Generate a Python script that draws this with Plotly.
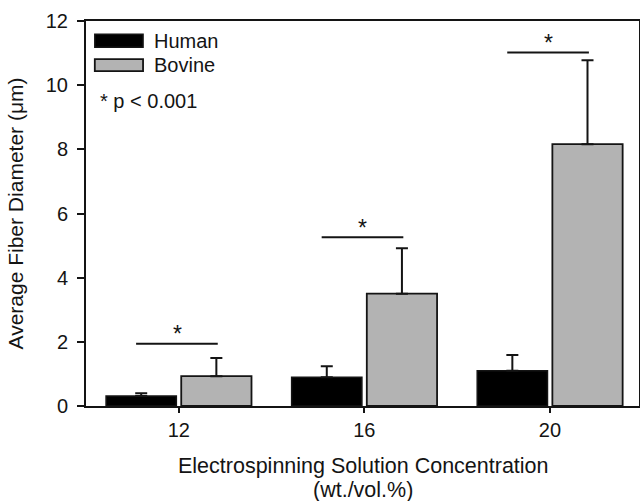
import plotly.graph_objects as go

concentrations = [12, 16, 20]
human_mean = [0.31, 0.90, 1.10]
human_err = [0.09, 0.34, 0.49]
bovine_mean = [0.93, 3.50, 8.16]
bovine_err = [0.57, 1.42, 2.62]
sig_line_y = [1.94, 5.26, 11.02]
y_ticks = [0, 2, 4, 6, 8, 10, 12]
x_title_lines = ["Electrospinning Solution Concentration", "(wt./vol.%)"]

FONT = "Liberation Sans, Arial, sans-serif"
INK = "#141414"

fig = go.Figure()
fig.add_trace(go.Bar(
    x=concentrations, y=human_mean, name="Human",
    marker=dict(color="#000000", line=dict(color=INK, width=1.5)),
    error_y=dict(type="data", symmetric=False, array=human_err,
                 arrayminus=[0] * len(human_err), color=INK, thickness=2, width=6),
))
fig.add_trace(go.Bar(
    x=concentrations, y=bovine_mean, name="Bovine",
    marker=dict(color="#b3b3b3", line=dict(color=INK, width=1.8)),
    error_y=dict(type="data", symmetric=False, array=bovine_err,
                 arrayminus=[0] * len(bovine_err), color=INK, thickness=2, width=6),
))

shapes = []
annotations = []
for c, ly in zip(concentrations, sig_line_y):
    shapes.append(dict(type="line", xref="x", yref="y", x0=c - 0.92, x1=c + 0.84,
                       y0=ly, y1=ly, line=dict(color=INK, width=2)))
    annotations.append(dict(x=c - 0.03, y=ly + 0.30, xref="x", yref="y", text="*",
                            showarrow=False, font=dict(family=FONT, size=23, color=INK),
                            yanchor="middle", xanchor="center"))

# legend drawn manually
shapes.append(dict(type="rect", xref="x", yref="y", x0=10.19, x1=11.23, y0=11.18, y1=11.59,
                   fillcolor="#000000", line=dict(color=INK, width=1.5)))
shapes.append(dict(type="rect", xref="x", yref="y", x0=10.19, x1=11.23, y0=10.44, y1=10.81,
                   fillcolor="#b3b3b3", line=dict(color=INK, width=1.8)))
annotations.append(dict(x=11.42, y=11.37, xref="x", yref="y", text="Human", showarrow=False,
                        xanchor="left", yanchor="middle", font=dict(family=FONT, size=20, color=INK)))
annotations.append(dict(x=11.42, y=10.62, xref="x", yref="y", text="Bovine", showarrow=False,
                        xanchor="left", yanchor="middle", font=dict(family=FONT, size=20, color=INK)))
annotations.append(dict(x=10.26, y=9.50, xref="x", yref="y", text="* p < 0.001", showarrow=False,
                        xanchor="left", yanchor="middle", font=dict(family=FONT, size=20, color=INK)))

# x-axis title (two lines, tight spacing)
for txt, py in zip(x_title_lines, [-0.1558, -0.2182]):
    annotations.append(dict(x=0.501, y=py, xref="paper", yref="paper", text=txt, showarrow=False,
                            xanchor="center", yanchor="middle",
                            font=dict(family=FONT, size=21.5, color=INK)))

fig.update_layout(
    width=640, height=501,
    margin=dict(l=86, r=1, t=21, b=95),
    paper_bgcolor="white", plot_bgcolor="white",
    barmode="group", bargap=0.19, bargroupgap=0.065,
    showlegend=False,
    font=dict(family=FONT, size=20, color=INK),
    shapes=shapes, annotations=annotations,
    xaxis=dict(
        range=[10, 21.92], tickvals=concentrations, ticktext=[str(c) for c in concentrations],
        showline=True, linecolor=INK, linewidth=2, mirror=True, automargin=False,
        ticks="outside", ticklen=5, tickwidth=1.5, tickcolor=INK,
        showgrid=False, zeroline=False,
        tickfont=dict(family=FONT, size=20, color=INK),
    ),
    yaxis=dict(
        range=[0, 12], tickvals=y_ticks,
        showline=True, linecolor=INK, linewidth=2, mirror=True, automargin=False,
        ticks="outside", ticklen=7, tickwidth=1.5, tickcolor=INK,
        showgrid=False, zeroline=False, ticklabelstandoff=5,
        tickfont=dict(family=FONT, size=20, color=INK),
        title=dict(text="Average Fiber Diameter (μm)",
                   font=dict(family=FONT, size=21, color=INK), standoff=16),
    ),
)

fig.write_html("out.html")
